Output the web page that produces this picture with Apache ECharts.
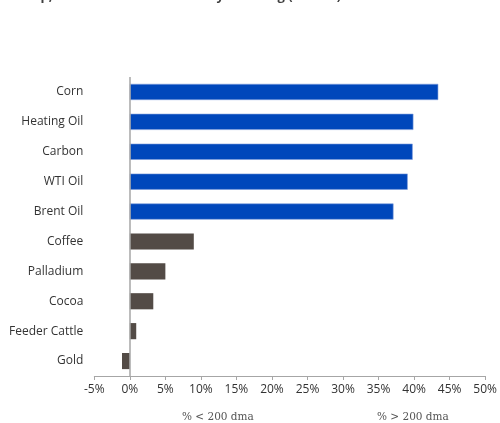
<!DOCTYPE html>
<html><head><meta charset="utf-8">
<script src="https://cdn.jsdelivr.net/npm/echarts@6/dist/echarts.min.js"></script>
<style>html,body{margin:0;padding:0;background:#fff}#c{width:500px;height:423px}</style>
</head><body><div id="c"></div>
<script>
const categories = ['Corn','Heating Oil','Carbon','WTI Oil','Brent Oil','Coffee','Palladium','Cocoa','Feeder Cattle','Gold'];
const values = [43.4, 39.9, 39.8, 39.1, 37.1, 9.0, 5.0, 3.3, 0.9, -1.1];
const topCount = 5;
const xTicks = {min: -5, max: 50, interval: 5};
const titleText = 'Top, Bottom 5 Commodities by Trending (dma %)';
const leftNote = '% < 200 dma';
const rightNote = '% > 200 dma';

const chart = echarts.init(document.getElementById('c'));
const font = "'Open Sans', sans-serif";
chart.setOption({
  animation: false,
  title: {text: titleText, left: 20, top: -15, textStyle: {fontFamily: font, fontSize: 13, fontWeight: 'bold', color: '#404040'}},
  grid: {left: 94.3, right: 14, top: 77, bottom: 47},
  xAxis: {
    type: 'value', min: xTicks.min, max: xTicks.max, interval: xTicks.interval,
    axisLine: {show: true, onZero: false, lineStyle: {color: '#a6a6a6', width: 1}},
    axisTick: {show: true, length: 4, inside: false, lineStyle: {color: '#a6a6a6'}},
    splitLine: {show: false},
    axisLabel: {formatter: v => v + '%', color: '#333', fontFamily: font, fontSize: 12, margin: 8}
  },
  yAxis: {
    type: 'category', data: categories, inverse: true,
    axisLine: {show: false, onZero: false}, axisTick: {show: false},
    axisLabel: {color: '#333', fontFamily: font, fontSize: 12, margin: 11}
  },
  series: [{
    type: 'bar', barCategoryGap: '46%',
    data: values.map((v, i) => ({value: v, itemStyle: {
      color: i < topCount ? '#0047BB' : '#534B46',
      borderColor: i < topCount ? '#7f9edb' : '#534B46', borderWidth: i < topCount ? 0.6 : 0}})),
    markLine: {silent: true, symbol: 'none', label: {show: false},
      lineStyle: {color: '#a6a6a6', width: 1.5, type: 'solid'},
      data: [{xAxis: 0}]}
  }],
  graphic: [
    {type: 'text', left: 182, top: 412, style: {text: leftNote, font: "10.5px 'DejaVu Serif', serif", fill: '#555'}},
    {type: 'text', left: 377, top: 412, style: {text: rightNote, font: "10.5px 'DejaVu Serif', serif", fill: '#555'}}
  ]
});
</script></body></html>
